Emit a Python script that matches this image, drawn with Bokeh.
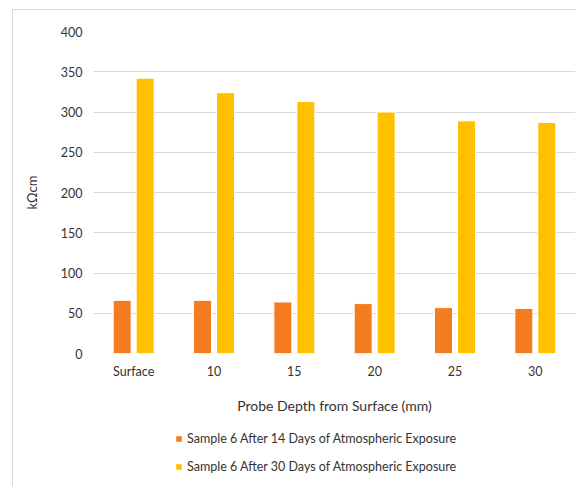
from bokeh.plotting import figure
from bokeh.layouts import column
from bokeh.models import ColumnDataSource, FactorRange, Range1d, FixedTicker, Legend, LegendItem
from bokeh.transform import dodge
from bokeh.embed import file_html
from bokeh.resources import INLINE

depths = ["Surface", "10", "15", "20", "25", "30"]
days_14 = [66, 66, 64, 62, 57, 56]
days_30 = [342, 324, 313, 300, 289, 287]
y_ticks = [0, 50, 100, 150, 200, 250, 300, 350, 400]

series_14 = "Sample 6 After 14 Days of Atmospheric Exposure"
series_30 = "Sample 6 After 30 Days of Atmospheric Exposure"

FONT = "Lato"
TEXT = "#333333"
GRID = "#d9d9d9"
ORANGE = "#F47B20"
YELLOW = "#FFC000"

src = ColumnDataSource(dict(depth=depths, d14=days_14, d30=days_30))

# main bar chart
p = figure(
    x_range=FactorRange(*depths, range_padding=0),
    y_range=Range1d(0, 400),
    width=564, height=411,
    frame_width=482, frame_height=322,
    min_border_left=80, min_border_right=2,
    min_border_top=21, min_border_bottom=68,
    output_backend="svg", toolbar_location=None,
)
p.outline_line_color = None
p.background_fill_color = "white"
p.border_fill_color = "white"

p.vbar(x=dodge("depth", -0.143, range=p.x_range), top="d14", width=0.224,
       source=src, fill_color=ORANGE, line_color="white", line_width=1)
p.vbar(x=dodge("depth", 0.143, range=p.x_range), top="d30", width=0.224,
       source=src, fill_color=YELLOW, line_color="white", line_width=1)

p.xgrid.grid_line_color = None
p.ygrid.ticker = FixedTicker(ticks=y_ticks)
p.ygrid.grid_line_color = GRID
p.ygrid.grid_line_width = 1

p.yaxis.ticker = FixedTicker(ticks=y_ticks)
for ax in (p.xaxis[0], p.yaxis[0]):
    ax.axis_line_color = None
    ax.major_tick_line_color = None
    ax.minor_tick_line_color = None
    ax.major_label_text_font = FONT
    ax.major_label_text_font_size = "12.5px"
    ax.major_label_text_color = TEXT
    ax.axis_label_text_font = FONT
    ax.axis_label_text_font_style = "normal"
    ax.axis_label_text_color = TEXT

p.yaxis.major_label_standoff = 5
p.yaxis.axis_label = "kΩcm"
p.yaxis.axis_label_text_font_size = "13px"
p.yaxis.axis_label_standoff = 18

p.xaxis.major_label_standoff = 4
p.xaxis.axis_label = "Probe Depth from Surface (mm)"
p.xaxis.axis_label_text_font_size = "14px"
p.xaxis.axis_label_standoff = 15

# legend strip below the chart; its key renderers sit outside the visible range
lg = figure(
    x_range=Range1d(0, 1), y_range=Range1d(0, 1),
    width=564, height=66,
    min_border_left=0, min_border_right=0, min_border_top=0, min_border_bottom=0,
    output_backend="svg", toolbar_location=None,
)
lg.axis.visible = False
lg.grid.visible = False
lg.outline_line_color = None
lg.border_fill_color = "white"

key = ColumnDataSource(dict(x=[5.0], top=[5.0]))
k14 = lg.vbar(x="x", top="top", bottom=4.0, width=0.1, source=key,
              fill_color=ORANGE, line_color=None)
k30 = lg.vbar(x="x", top="top", bottom=4.0, width=0.1, source=key,
              fill_color=YELLOW, line_color=None)

legend = Legend(
    items=[LegendItem(label=series_14, renderers=[k14]),
           LegendItem(label=series_30, renderers=[k30])],
    location=(82, 13),
    orientation="vertical",
    label_text_font=FONT, label_text_font_size="12.5px", label_text_color=TEXT,
    glyph_width=7, glyph_height=7, label_height=16, label_standoff=5,
    spacing=12, padding=0, margin=0,
    border_line_color=None, background_fill_alpha=0,
)
lg.add_layout(legend, "center")

page = column(p, lg, spacing=0)
page.margin = (9, 0, 0, 12)
page.styles = {"border-left": f"1px solid {GRID}", "border-top": f"1px solid {GRID}"}

open("out.html", "w").write(file_html(page, INLINE))
